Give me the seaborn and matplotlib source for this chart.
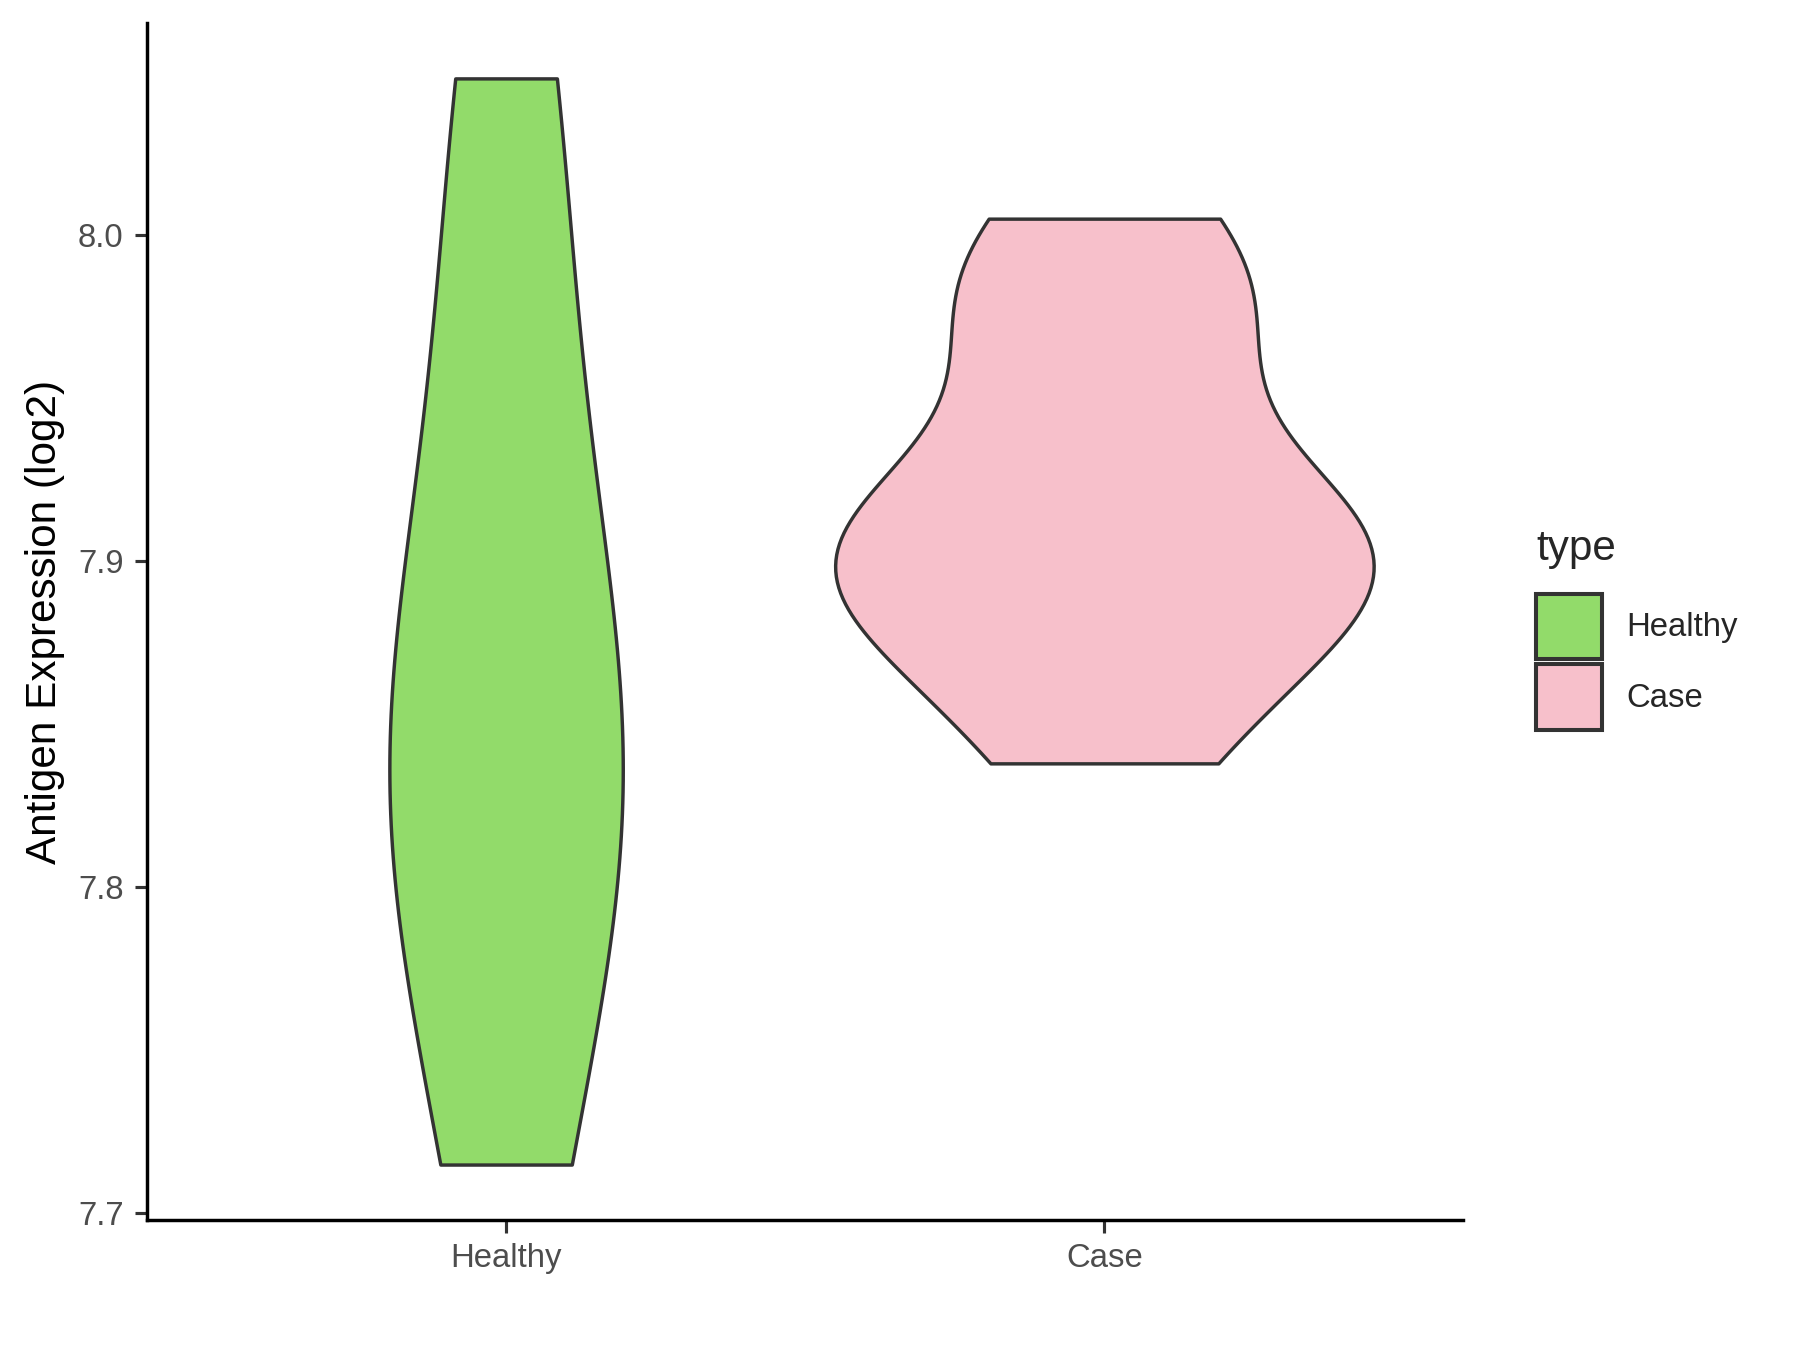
import numpy as np
import pandas as pd
import matplotlib
matplotlib.use("Agg")
import matplotlib.pyplot as plt
import seaborn as sns
from matplotlib.patches import Patch

# DATA
groups = ["Healthy", "Case"]
healthy_vals = [7.715, 7.80, 7.835, 7.865, 7.95, 8.048]
case_vals = [7.838, 7.866, 7.885, 7.898, 7.903, 7.91, 7.922, 7.972, 7.98, 8.005]
colors = ["#92DB6A", "#F7C0CB"]
y_ticks = [7.7, 7.8, 7.9, 8.0]

df = pd.DataFrame({
    "type": ["Healthy"] * len(healthy_vals) + ["Case"] * len(case_vals),
    "value": healthy_vals + case_vals,
})
df["type"] = pd.Categorical(df["type"], categories=groups)

sns.set_style("white")
plt.rcParams["font.family"] = ["Liberation Sans", "DejaVu Sans"]

fig = plt.figure(figsize=(8, 6), dpi=225)
ax = fig.add_axes([0.0817, 0.0963, 0.7313, 0.8867])

sns.violinplot(data=df, x="type", y="value", hue="type", palette=colors,
               order=groups, hue_order=groups, cut=0, inner=None,
               density_norm="area", common_norm=True, width=0.9,
               bw_method="silverman", bw_adjust=0.85,
               linecolor="#333333", linewidth=1.1,
               saturation=1, legend=False, ax=ax)

ax.set_ylim(7.698, 8.065)
ax.set_xlim(-0.6, 1.6)
ax.set_yticks(y_ticks)
ax.set_yticklabels([f"{t:.1f}" for t in y_ticks])
ax.set_xlabel("")
ax.set_ylabel("Antigen Expression (log2)", fontsize=13.5, color="black")
ax.tick_params(axis="both", labelsize=10.5, labelcolor="#4D4D4D", color="#333333",
               length=4, width=1.0, direction="out", left=True, bottom=True)
for s in ["top", "right"]:
    ax.spines[s].set_visible(False)
for s in ["left", "bottom"]:
    ax.spines[s].set_color("black")
    ax.spines[s].set_linewidth(1.1)

handles = [Patch(facecolor=c, edgecolor="#333333", linewidth=1.3, label=g)
           for g, c in zip(groups, colors)]
leg = fig.legend(handles=handles, title="type", loc="center left",
                 bbox_to_anchor=(0.846, 0.534), frameon=False, fontsize=10.5,
                 title_fontsize=13.5, handlelength=2.0, handleheight=2.7,
                 handletextpad=0.75, labelspacing=0.15, borderaxespad=0)
leg._legend_box.align = "left"
leg._legend_box.sep = 8

fig.savefig("out.png", dpi=225)
